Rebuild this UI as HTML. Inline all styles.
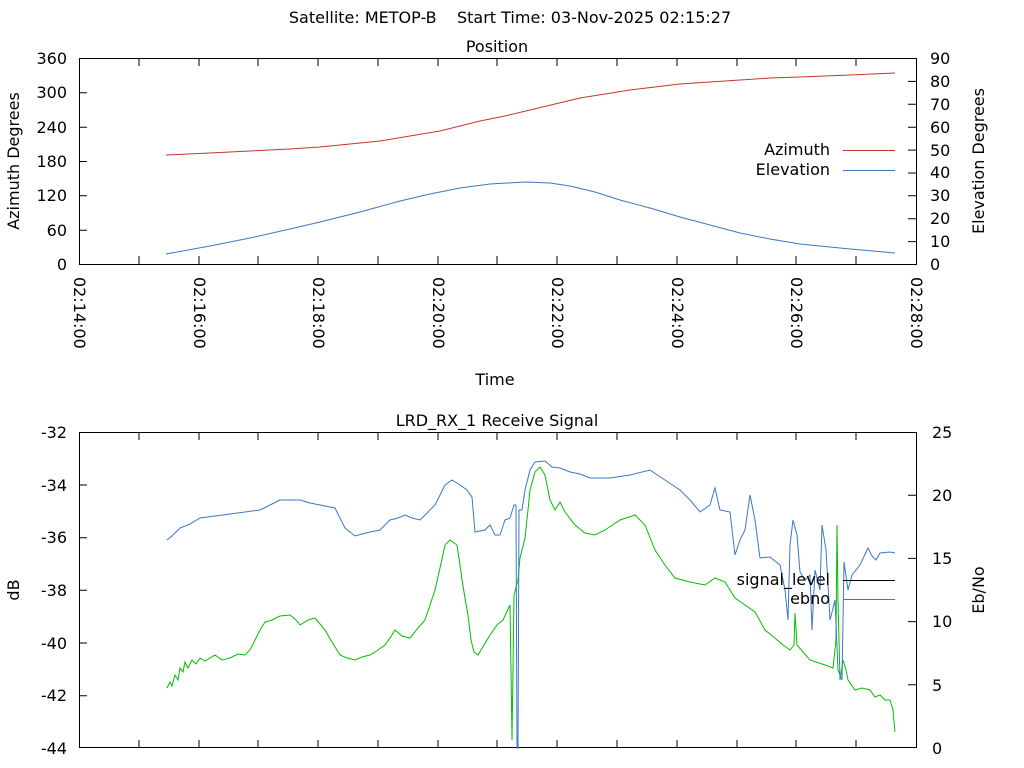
<!DOCTYPE html>
<html><head><meta charset="utf-8"><style>
html,body{margin:0;padding:0;background:#fff;}
svg{display:block;font-family:"DejaVu Sans","Liberation Sans",sans-serif;}
text{white-space:pre;}
</style></head><body>
<svg width="1024" height="768" viewBox="0 0 1024 768" xmlns="http://www.w3.org/2000/svg" xml:space="preserve">
<g font-size="16" fill="#000">
<text x="510" y="23" text-anchor="middle">Satellite: METOP-B    Start Time: 03-Nov-2025 02:15:27</text>
<text x="497" y="52" text-anchor="middle">Position</text>
<text x="497" y="426" text-anchor="middle">LRD_RX_1 Receive Signal</text>
<text x="495" y="385" text-anchor="middle">Time</text>
</g>
<rect x="79.5" y="58.5" width="837" height="206" fill="none" stroke="#000"/>
<g stroke="#000">
<path d="M79 92.8h8M79 127.2h8M79 161.5h8M79 195.8h8M79 230.2h8"/>
<path d="M916 81.4h-8M916 104.3h-8M916 127.2h-8M916 150.1h-8M916 173h-8M916 195.8h-8M916 218.7h-8M916 241.6h-8"/>
<path d="M139 264v-8M199 264v-8M258 264v-8M318 264v-8M378 264v-8M438 264v-8M497 264v-8M557 264v-8M617 264v-8M677 264v-8M737 264v-8M796 264v-8M856 264v-8"/>
<path d="M139 58v8M199 58v8M258 58v8M318 58v8M378 58v8M438 58v8M497 58v8M557 58v8M617 58v8M677 58v8M737 58v8M796 58v8M856 58v8"/>
</g>
<g font-size="16" text-anchor="end">
<text x="67" y="64">360</text><text x="67" y="98">300</text><text x="67" y="133">240</text><text x="67" y="167">180</text><text x="67" y="201">120</text><text x="67" y="236">60</text><text x="67" y="270">0</text>
</g>
<g font-size="16" text-anchor="start">
<text x="930" y="64">90</text><text x="930" y="87">80</text><text x="930" y="110">70</text><text x="930" y="133">60</text><text x="930" y="156">50</text><text x="930" y="178">40</text><text x="930" y="201">30</text><text x="930" y="224">20</text><text x="930" y="247">10</text><text x="930" y="270">0</text>
</g>
<text transform="translate(19,161) rotate(-90)" text-anchor="middle" font-size="16">Azimuth Degrees</text>
<text transform="translate(984,161) rotate(-90)" text-anchor="middle" font-size="16">Elevation Degrees</text>
<g font-size="16">
<text transform="translate(74,277) rotate(90)">02:14:00</text>
<text transform="translate(194,277) rotate(90)">02:16:00</text>
<text transform="translate(313,277) rotate(90)">02:18:00</text>
<text transform="translate(433,277) rotate(90)">02:20:00</text>
<text transform="translate(552,277) rotate(90)">02:22:00</text>
<text transform="translate(672,277) rotate(90)">02:24:00</text>
<text transform="translate(791,277) rotate(90)">02:26:00</text>
<text transform="translate(911,277) rotate(90)">02:28:00</text>
</g>
<polyline fill="none" stroke="#c0392b" stroke-width="1" points="166,155 210,153 250,151 290,149 320,147 350,144 380,141 410,136 440,131 460,126 480,121 505,116 530,110 555,104 580,98 605,94 630,90 655,87 680,84 710,82 740,80 770,78 800,77 850,75 895,73"/>
<polyline fill="none" stroke="#3b78c4" stroke-width="1" points="166,254 210,246 250,238 290,229 320,222 360,212 400,201 430,194 460,188 490,184 525,182 550,183 570,186 595,192 620,200 650,208 680,217 710,225 740,233 770,239 800,244 850,249 895,253"/>
<text x="830" y="155" text-anchor="end" font-size="16">Azimuth</text>
<text x="830" y="175" text-anchor="end" font-size="16">Elevation</text>
<path d="M843 150.5h52" stroke="#c0392b"/>
<path d="M843 170.5h52" stroke="#3b78c4"/>

<rect x="79.5" y="432.5" width="837" height="315" fill="none" stroke="#000"/>
<g stroke="#000">
<path d="M79 485h8M79 537.7h8M79 590.3h8M79 643h8M79 695.7h8"/>
<path d="M916 495.2h-8M916 558.4h-8M916 621.6h-8M916 684.8h-8"/>
<path d="M139 748v-8M199 748v-8M258 748v-8M318 748v-8M378 748v-8M438 748v-8M497 748v-8M557 748v-8M617 748v-8M677 748v-8M737 748v-8M796 748v-8M856 748v-8"/>
<path d="M139 432v8M199 432v8M258 432v8M318 432v8M378 432v8M438 432v8M497 432v8M557 432v8M617 432v8M677 432v8M737 432v8M796 432v8M856 432v8"/>
</g>
<g font-size="16" text-anchor="end">
<text x="67" y="438">-32</text><text x="67" y="491">-34</text><text x="67" y="543">-36</text><text x="67" y="596">-38</text><text x="67" y="649">-40</text><text x="67" y="701">-42</text><text x="67" y="754">-44</text>
</g>
<g font-size="16" text-anchor="start">
<text x="932" y="438">25</text><text x="932" y="501">20</text><text x="932" y="564">15</text><text x="932" y="627">10</text><text x="932" y="691">5</text><text x="932" y="754">0</text>
</g>
<text transform="translate(19,590) rotate(-90)" text-anchor="middle" font-size="16">dB</text>
<text transform="translate(984,590) rotate(-90)" text-anchor="middle" font-size="16">Eb/No</text>

<polyline fill="none" stroke="#00c000" stroke-width="1" points="167,688 170,682 172,686 175,675 178,680 180,668 183,672 185,662 188,668 192,660 196,664 200,658 205,661 215,655 222,660 230,658 238,654 245,655 250,650 255,640 260,630 265,622 272,620 280,616 290,615 296,620 300,625 308,620 315,618 320,624 325,630 332,642 340,655 347,658 355,660 362,657 370,655 378,650 385,645 390,638 395,630 402,636 410,638 418,628 425,620 430,605 435,590 440,568 445,545 450,540 457,545 460,565 462,580 465,598 468,615 471,640 474,652 478,655 484,645 490,635 497,625 503,620 510,605 511,670 512,740 513,670 514,595 518,580 520,558 525,538 528,510 530,490 535,472 540,467 545,475 550,500 555,510 560,502 565,512 575,525 585,533 595,535 605,530 620,520 635,515 640,520 645,525 655,550 665,565 675,578 690,582 705,585 715,578 725,582 735,598 745,605 755,612 765,630 775,638 783,645 790,650 794,645 795,613 797,645 810,660 825,665 833,668 836,640 837,525 838,600 840,680 843,660 846,670 848,680 855,690 862,688 870,690 875,697 880,695 885,700 890,700 893,710 895,732"/>
<polyline fill="none" stroke="#3b78c4" stroke-width="1" points="167,540 172,536 180,528 190,524 200,518 215,516 230,514 245,512 260,510 270,505 280,500 300,500 310,503 320,505 335,508 340,518 345,528 355,536 362,534 370,532 380,530 385,525 390,520 398,518 405,515 412,518 420,520 427,513 435,505 440,495 445,485 452,480 460,485 467,490 472,497 475,532 485,530 490,525 495,535 500,535 505,520 510,518 514,505 516,505 517,748 518,748 519,510 522,510 525,490 530,470 535,462 545,461 552,467 560,468 570,472 580,474 590,478 610,478 630,475 650,470 665,480 680,490 690,500 700,512 710,505 715,488 720,510 730,512 735,555 740,540 745,530 750,495 755,520 760,558 770,557 780,565 785,590 788,620 790,545 793,520 797,535 800,572 805,580 810,575 812,630 815,570 820,590 822,525 826,550 830,620 835,600 838,670 842,680 844,562 848,590 852,575 860,565 868,548 872,556 876,560 880,553 890,552 895,553"/>
<text x="830" y="585" text-anchor="end" font-size="16">signal_level</text>
<text x="830" y="604" text-anchor="end" font-size="16">ebno</text>
<path d="M843 580.5h52" stroke="#000"/>
<path d="M843 599.5h52" stroke="#3b78c4"/>
</svg>
</body></html>
